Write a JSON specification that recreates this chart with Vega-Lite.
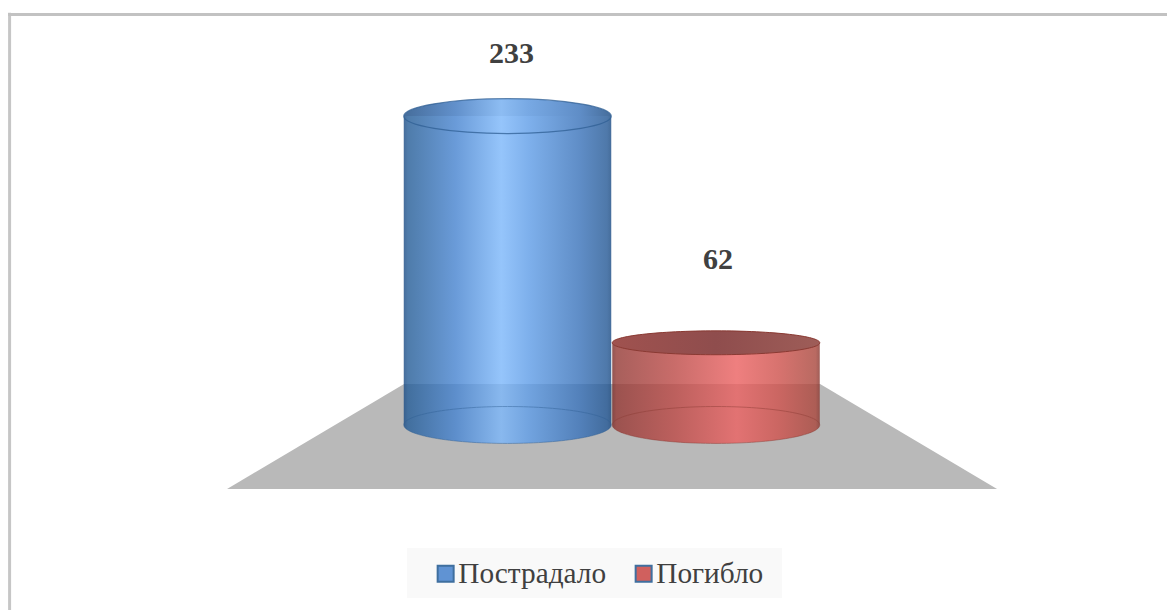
{
"$schema":"https://vega.github.io/schema/vega-lite/v6.json",
"width":1167,"height":610,"padding":0,"autosize":{"type":"none"},"background":"#ffffff",
"config":{"view":{"stroke":null},"axis":{"disable":true}},
"datasets":{
"bars":[{"series":"Пострадало","value":233,"pos":1,"base":0},{"series":"Погибло","value":62,"pos":2,"base":0}],
"floor":[{"pos":-0.345,"value":-48.3,"base":-48.3},{"pos":0.504,"value":30.9,"base":-48.3},{"pos":2.499,"value":30.9,"base":-48.3},{"pos":3.348,"value":-48.3,"base":-48.3}]
},
"layer":[
{"data":{"name":"floor"},"mark":{"type":"area","color":"#b9b9b9","opacity":1},
 "encoding":{"x":{"field":"pos","type":"quantitative","scale":{"domain":[-1.434,4.163],"nice":false,"zero":false}},
 "y":{"field":"value","type":"quantitative","scale":{"domain":[-139.58,320.6],"nice":false,"zero":false}},"y2":{"field":"base"}}},
{"data":{"values":[{"edge":-1.388,"a":311,"b":-139.58}]},"mark":{"type":"rule","color":"#c6c6c6","strokeWidth":3},"encoding":{"x":{"field":"edge","type":"quantitative"},"y":{"field":"a","type":"quantitative"},"y2":{"field":"b"}}},
{"data":{"values":[{"edge":309.7,"a":-1.395,"b":4.163}]},"mark":{"type":"rule","color":"#c2c2c2","strokeWidth":3},"encoding":{"y":{"field":"edge","type":"quantitative"},"x":{"field":"a","type":"quantitative"},"x2":{"field":"b"}}},
{"data":{"values":[{"a":0.518,"b":2.317,"c":-92.8,"d":-130.5}]},"mark":{"type":"rect","color":"#f9f9f9"},"encoding":{"x":{"field":"a","type":"quantitative"},"x2":{"field":"b"},"y":{"field":"c","type":"quantitative"},"y2":{"field":"d"}}},
{"data":{"name":"bars"},"mark":{"type":"point","filled":true,"size":0,"opacity":1},
 "encoding":{"x":{"field":"pos","type":"quantitative"},"y":{"field":"base","type":"quantitative"},
 "fill":{"field":"series","type":"nominal","scale":{"domain":["Пострадало","Погибло"],"range":["#6093d3","#d0605e"]},
 "legend":{"title":null,"orient":"none","legendX":431,"legendY":559,"direction":"horizontal","padding":0,"symbolType":"square","symbolSize":256,"symbolStrokeWidth":2,"symbolOpacity":1,"labelFont":"Liberation Serif","labelFontSize":29.3,"labelColor":"#404040","labelOffset":-2,"columnPadding":22,"symbolStrokeColor":"#3f6f9f"}}}},

{"data":{"name":"bars"},"transform":[{"filter":"datum.pos==1"},{"calculate":"datum.pos-0.4976","as":"lo"},{"calculate":"datum.pos+0.4976","as":"hi"}],
 "mark":{"type":"rect","opacity":0.82,"fill":{"gradient":"linear","x1":0,"y1":0,"x2":1,"y2":0,"stops":[{"offset":0,"color":"#1d4d85"},{"offset":0.02,"color":"#285f98"},{"offset":0.25,"color":"#4985d0"},{"offset":0.47,"color":"#7eb8fa"},{"offset":0.6,"color":"#629fe8"},{"offset":0.85,"color":"#3c74ba"},{"offset":0.98,"color":"#285b97"},{"offset":1,"color":"#1d4d85"}]}},
 "encoding":{"x":{"field":"lo","type":"quantitative"},"x2":{"field":"hi"},"y":{"field":"value","type":"quantitative"},"y2":{"field":"base"}}},
{"data":{"name":"bars"},"transform":[{"filter":"datum.pos==1"}],
 "mark":{"type":"point","filled":true,"size":43056,"shape":"M-1,0 A1,0.168,0,0,1,1,0 Z","opacity":0.82,"fill":{"gradient":"linear","x1":0,"y1":0,"x2":1,"y2":0,"stops":[{"offset":0,"color":"#1d4d85"},{"offset":0.25,"color":"#3f78c0"},{"offset":0.47,"color":"#74aef0"},{"offset":0.6,"color":"#5a96de"},{"offset":0.85,"color":"#3c74ba"},{"offset":1,"color":"#1d4d85"}]}},
 "encoding":{"x":{"field":"pos","type":"quantitative"},"y":{"field":"value","type":"quantitative"}}},
{"data":{"name":"bars"},"transform":[{"filter":"datum.pos==1"}],
 "mark":{"type":"point","filled":false,"size":43056,"shape":"M-1,0 A1,0.168,0,1,1,1,0 A1,0.168,0,1,1,-1,0 Z","stroke":"#2f5f94","strokeWidth":1.2,"opacity":0.75},
 "encoding":{"x":{"field":"pos","type":"quantitative"},"y":{"field":"value","type":"quantitative"}}},
{"data":{"name":"bars"},"transform":[{"filter":"datum.pos==1"}],
 "mark":{"type":"point","filled":true,"size":43056,"shape":"M-1,0 A1,0.178,0,0,0,1,0 Z","opacity":0.82,"fill":{"gradient":"linear","x1":0,"y1":0,"x2":1,"y2":0,"stops":[{"offset":0,"color":"#1d4d85"},{"offset":0.02,"color":"#285f98"},{"offset":0.25,"color":"#4985d0"},{"offset":0.47,"color":"#7eb8fa"},{"offset":0.6,"color":"#629fe8"},{"offset":0.85,"color":"#3c74ba"},{"offset":0.98,"color":"#285b97"},{"offset":1,"color":"#1d4d85"}]}},
 "encoding":{"x":{"field":"pos","type":"quantitative"},"y":{"field":"base","type":"quantitative"}}},
{"data":{"name":"bars"},"transform":[{"filter":"datum.pos==1"}],
 "mark":{"type":"point","filled":false,"size":43056,"shape":"M-1,0 A1,0.178,0,1,1,1,0 A1,0.178,0,1,1,-1,0 Z","stroke":"#2f5f94","strokeWidth":1,"opacity":0.45},
 "encoding":{"x":{"field":"pos","type":"quantitative"},"y":{"field":"base","type":"quantitative"}}},

{"data":{"name":"bars"},"transform":[{"filter":"datum.pos==2"},{"calculate":"datum.pos-0.4976","as":"lo"},{"calculate":"datum.pos+0.4976","as":"hi"}],
 "mark":{"type":"rect","opacity":0.82,"fill":{"gradient":"linear","x1":0,"y1":0,"x2":1,"y2":0,"stops":[{"offset":0,"color":"#7a2f2c"},{"offset":0.02,"color":"#953c38"},{"offset":0.3,"color":"#bd4c49"},{"offset":0.6,"color":"#eb6363"},{"offset":0.8,"color":"#cf544f"},{"offset":0.98,"color":"#aa493f"},{"offset":1,"color":"#8a3a33"}]}},
 "encoding":{"x":{"field":"lo","type":"quantitative"},"x2":{"field":"hi"},"y":{"field":"value","type":"quantitative"},"y2":{"field":"base"}}},
{"data":{"name":"bars"},"transform":[{"filter":"datum.pos==2"}],
 "mark":{"type":"point","filled":true,"size":43056,"shape":"M-1,0 A1,0.178,0,0,0,1,0 Z","opacity":0.82,"fill":{"gradient":"linear","x1":0,"y1":0,"x2":1,"y2":0,"stops":[{"offset":0,"color":"#7a2f2c"},{"offset":0.02,"color":"#953c38"},{"offset":0.3,"color":"#bd4c49"},{"offset":0.6,"color":"#eb6363"},{"offset":0.8,"color":"#cf544f"},{"offset":0.98,"color":"#aa493f"},{"offset":1,"color":"#8a3a33"}]}},
 "encoding":{"x":{"field":"pos","type":"quantitative"},"y":{"field":"base","type":"quantitative"}}},
{"data":{"name":"bars"},"transform":[{"filter":"datum.pos==2"}],
 "mark":{"type":"point","filled":false,"size":43056,"shape":"M-1,0 A1,0.178,0,1,1,1,0 A1,0.178,0,1,1,-1,0 Z","stroke":"#8a3a33","strokeWidth":1,"opacity":0.45},
 "encoding":{"x":{"field":"pos","type":"quantitative"},"y":{"field":"base","type":"quantitative"}}},
{"data":{"name":"bars"},"transform":[{"filter":"datum.pos==2"}],
 "mark":{"type":"point","filled":true,"size":43056,"shape":"M-1,0 A1,0.115,0,1,1,1,0 A1,0.115,0,1,1,-1,0 Z","stroke":"#8a3a33","strokeWidth":1,"opacity":1,"fill":{"gradient":"linear","x1":0,"y1":0,"x2":1,"y2":0,"stops":[{"offset":0,"color":"#a0524f"},{"offset":0.5,"color":"#8f4d4d"},{"offset":1,"color":"#9e5d58"}]}},
 "encoding":{"x":{"field":"pos","type":"quantitative"},"y":{"field":"value","type":"quantitative"}}},

{"data":{"name":"bars"},"transform":[{"filter":"datum.pos==1"}],
 "mark":{"type":"text","font":"Liberation Serif","fontWeight":"bold","fontSize":30,"color":"#404040","baseline":"middle","dx":4,"dy":-62},
 "encoding":{"x":{"field":"pos","type":"quantitative"},"y":{"field":"value","type":"quantitative"},"text":{"field":"value","type":"quantitative"}}},
{"data":{"name":"bars"},"transform":[{"filter":"datum.pos==2"}],
 "mark":{"type":"text","font":"Liberation Serif","fontWeight":"bold","fontSize":30,"color":"#404040","baseline":"middle","dx":2,"dy":-83},
 "encoding":{"x":{"field":"pos","type":"quantitative"},"y":{"field":"value","type":"quantitative"},"text":{"field":"value","type":"quantitative"}}}
]
}
